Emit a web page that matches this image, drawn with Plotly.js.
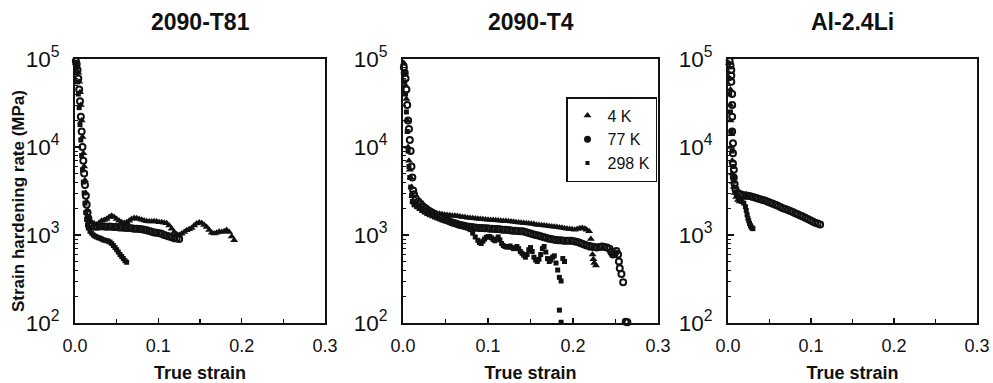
<!DOCTYPE html>
<html>
<head>
<meta charset="utf-8">
<script src="https://cdn.plot.ly/plotly-3.0.1.min.js"></script>
<style>html,body{margin:0;padding:0;background:#fff;}#chart{width:993px;height:383px;}</style>
</head>
<body>
<div id="chart"></div>
<script>
// ---------- data ----------
const panelTitles = ["2090-T81", "2090-T4", "Al-2.4Li"];
const seriesNames = ["4 K", "77 K", "298 K"];
const xTickVals = [0, 0.1, 0.2, 0.3];
const yAxisTitle = "Strain hardening rate (MPa)";
const xAxisTitle = "True strain";

// 2090-T81
const t81_4K_x = [0.001,0.002,0.003,0.004,0.005,0.006,0.007,0.008,0.009,0.010,0.011,0.012,0.013,0.014,0.015,0.016,0.018,
  0.020,0.023,0.026,0.029,0.032,0.035,0.038,0.041,0.044,0.047,0.050,0.053,0.056,0.059,0.062,0.065,0.068,0.071,0.074,0.077,
  0.080,0.083,0.086,0.089,0.092,0.095,0.098,0.101,0.104,0.107,0.110,0.113,0.116,0.119,0.122,0.125,0.128,0.131,0.134,0.137,
  0.140,0.143,0.146,0.149,0.152,0.155,0.158,0.161,0.164,0.167,0.170,0.173,0.176,0.179,0.182,0.185,0.188,0.191];
const t81_4K_y = [90000,85000,80000,70000,55000,42000,30000,20000,13000,8500,6000,4200,3000,2400,1900,1600,1450,
  1400,1350,1320,1380,1450,1480,1520,1600,1650,1600,1520,1450,1400,1370,1400,1450,1520,1560,1550,1520,
  1490,1460,1430,1420,1420,1430,1420,1400,1400,1380,1360,1280,1180,1080,1020,1000,1030,1080,1130,1160,
  1200,1280,1350,1390,1370,1300,1230,1140,1060,1040,1060,1090,1080,1100,1140,1080,960,870];
const t81_77K_x = [0.001,0.002,0.003,0.004,0.005,0.006,0.007,0.008,0.009,0.010,0.011,0.012,0.013,0.014,0.015,0.016,0.018,
  0.020,0.023,0.026,0.029,0.032,0.035,0.038,0.041,0.044,0.047,0.050,0.053,0.056,0.059,0.062,0.065,0.068,0.071,0.074,0.077,
  0.080,0.083,0.086,0.089,0.092,0.095,0.098,0.101,0.104,0.107,0.110,0.113,0.116,0.119,0.122,0.125];
const t81_77K_y = [95000,88000,75000,60000,45000,33000,22000,15000,10000,7000,5000,3700,2800,2200,1800,1550,1350,
  1280,1250,1240,1250,1260,1250,1240,1250,1240,1230,1230,1220,1220,1210,1200,1200,1190,1180,1180,1170,
  1160,1150,1130,1110,1090,1070,1060,1050,1030,1000,980,960,940,920,910,900];
const t81_298K_x = [0.001,0.002,0.003,0.004,0.005,0.006,0.007,0.008,0.009,0.010,0.011,0.012,0.013,0.014,0.015,0.016,0.018,
  0.020,0.022,0.024,0.026,0.028,0.030,0.032,0.034,0.036,0.038,0.040,0.042,0.044,0.046,0.048,0.050,0.052,0.054,0.056,0.058,0.060,0.062];
const t81_298K_y = [80000,70000,55000,40000,28000,18000,12000,8000,5500,4000,3000,2300,1800,1500,1300,1200,1100,
  1050,1000,970,950,930,920,900,880,870,860,850,830,800,760,720,680,640,600,570,540,510,490];

// 2090-T4
const t4_4K_x = [0.001,0.002,0.003,0.004,0.005,0.006,0.007,0.008,0.009,0.010,0.011,0.012,0.014,
  0.016,0.019,0.022,0.025,0.028,0.031,0.034,0.037,0.040,0.043,0.046,0.049,0.052,0.055,0.058,0.061,0.064,0.067,0.070,
  0.073,0.076,0.079,0.082,0.085,0.088,0.091,0.094,0.097,0.100,0.103,0.106,0.109,0.112,0.115,0.118,0.121,0.124,0.127,
  0.130,0.133,0.136,0.139,0.142,0.145,0.148,0.151,0.154,0.157,0.160,0.163,0.166,0.169,0.172,0.175,0.178,0.181,0.184,
  0.187,0.190,0.193,0.196,0.199,0.202,0.205,0.208,0.211,0.214,0.216,0.219,0.221,0.222,0.223,0.224,0.225,0.227];
const t4_4K_y = [90000,70000,50000,35000,20000,10000,7000,5500,4500,3500,2800,2400,2300,
  2200,2100,2000,1950,1900,1850,1820,1790,1760,1740,1720,1700,1690,1680,1660,1650,1640,1620,1600,
  1590,1570,1560,1550,1540,1530,1520,1510,1500,1490,1480,1480,1470,1460,1450,1440,1440,1430,1420,
  1410,1400,1390,1380,1370,1360,1350,1340,1330,1310,1300,1290,1280,1270,1260,1250,1240,1230,1220,
  1210,1190,1180,1170,1160,1150,1170,1190,1200,1180,1150,1100,900,700,600,530,480,450];
const t4_77K_x = [0.001,0.002,0.003,0.004,0.005,0.006,0.007,0.008,0.009,0.010,0.011,0.012,0.013,0.015,
  0.018,0.021,0.024,0.027,0.030,0.033,0.036,0.039,0.042,0.045,0.048,0.051,0.054,0.057,0.060,0.063,0.066,0.069,0.072,
  0.075,0.078,0.081,0.084,0.087,0.090,0.093,0.096,0.099,0.102,0.105,0.108,0.111,0.114,0.117,0.120,0.123,0.126,0.129,
  0.132,0.135,0.138,0.141,0.144,0.147,0.150,0.153,0.156,0.159,0.162,0.165,0.168,0.171,0.174,0.177,0.180,0.183,0.186,
  0.189,0.192,0.195,0.198,0.201,0.204,0.207,0.210,0.213,0.216,0.219,0.222,0.225,0.228,0.231,0.234,0.237,0.240,0.243,
  0.245,0.247,0.249,0.251,0.253,0.254,0.255,0.257,0.259,0.262,0.264];
const t4_77K_y = [80000,70000,60000,45000,30000,20000,16000,12000,9000,6000,4500,3200,2900,2600,
  2400,2250,2100,2000,1900,1820,1750,1680,1620,1570,1520,1480,1440,1400,1370,1340,1310,1290,1270,
  1250,1240,1230,1220,1210,1200,1200,1190,1190,1180,1180,1170,1170,1160,1150,1150,1140,1130,1120,
  1120,1110,1100,1100,1080,1060,1040,1020,1000,990,970,950,930,910,900,890,880,870,870,
  860,860,860,860,850,840,820,800,780,760,750,740,730,720,730,740,730,720,700,
  640,600,620,660,600,500,420,360,290,103,102];
const t4_298K_x = [0.001,0.002,0.003,0.004,0.005,0.006,0.007,0.008,0.009,0.010,0.011,0.013,
  0.016,0.019,0.022,0.025,0.028,0.031,0.034,0.037,0.040,0.043,0.046,0.049,0.052,0.055,0.058,0.061,0.064,0.067,0.070,
  0.073,0.076,0.079,0.082,0.085,0.088,0.090,0.092,0.094,0.096,0.098,0.100,0.102,0.104,0.106,0.108,0.110,0.112,0.114,
  0.116,0.118,0.120,0.122,0.124,0.126,0.128,0.130,0.132,0.134,0.136,0.138,0.140,0.142,0.144,0.146,0.148,0.150,0.152,
  0.154,0.156,0.158,0.160,0.162,0.164,0.166,0.168,0.170,0.172,0.174,0.176,0.178,0.180,0.182,0.184,0.186,0.188,0.190,
  0.184,0.186];
const t4_298K_y = [70000,55000,40000,25000,15000,9000,6000,4500,3500,2800,2400,2200,
  2100,2000,1900,1820,1750,1700,1650,1600,1560,1520,1480,1450,1420,1390,1360,1340,1310,1280,1250,
  1220,1200,1150,1050,950,870,820,800,850,900,940,960,960,930,890,860,900,950,880,
  800,760,740,730,730,750,720,700,710,740,700,650,620,590,560,600,680,720,650,
  560,520,500,530,600,700,740,640,540,500,520,560,580,480,400,330,300,540,500,
  140,102];

// Al-2.4Li
const al_4K_x = [0.001,0.002,0.002,0.003,0.003,0.003,0.004,0.004,0.005,0.005,0.006,0.007,0.008,0.010,0.012,0.014,0.016,0.018,0.020,0.022];
const al_4K_y = [90000,80000,60000,45000,30000,20000,14000,10000,7000,5000,4000,3500,3000,2700,2500,2400,2500,2650,2800,2900];
const al_77K_x = [0.002,0.003,0.004,0.004,0.004,0.005,0.005,0.005,0.005,0.006,0.006,0.006,0.007,0.007,0.008,0.009,
  0.012,0.015,0.018,0.021,0.024,0.027,0.030,0.033,0.036,0.039,0.042,0.045,0.048,0.051,0.054,0.057,0.060,0.063,
  0.066,0.069,0.072,0.075,0.078,0.081,0.084,0.087,0.090,0.093,0.096,0.099,0.102,0.105,0.108,0.111];
const al_77K_y = [95000,85000,75000,65000,55000,40000,30000,22000,15000,11000,8500,6500,5500,4500,3800,3300,
  3000,2900,2850,2800,2800,2750,2700,2650,2600,2550,2500,2450,2380,2320,2260,2200,2150,2080,
  2020,1970,1920,1870,1820,1770,1720,1670,1620,1570,1520,1470,1420,1380,1350,1320];
const al_298K_x = [0.001,0.002,0.003,0.004,0.005,0.006,0.007,0.008,0.010,0.013,0.016,0.019,0.021,0.022,0.023,0.024,0.025,0.026,0.027,0.028,0.029,0.030];
const al_298K_y = [60000,40000,25000,15000,9000,6000,4500,3500,2900,2600,2400,2300,2100,1900,1700,1550,1450,1350,1280,1230,1200,1180];

// ---------- styling ----------
const INK = "#111111";
const FONT = "Liberation Sans, Arial, Helvetica, sans-serif";
const markerStyles = [
  {symbol: "triangle-up", size: 7, color: INK},
  {symbol: "circle-open", size: 6, color: INK, line: {width: 2, color: INK}},
  {symbol: "square", size: 5, color: INK}
];
const legendMarkers = [
  {symbol: "triangle-up", size: 7, color: INK},
  {symbol: "circle", size: 7, color: INK},
  {symbol: "square", size: 4, color: INK}
];

const panels = [
  {xs: [t81_4K_x, t81_77K_x, t81_298K_x], ys: [t81_4K_y, t81_77K_y, t81_298K_y]},
  {xs: [t4_4K_x, t4_77K_x, t4_298K_x], ys: [t4_4K_y, t4_77K_y, t4_298K_y]},
  {xs: [al_4K_x, al_77K_x, al_298K_x], ys: [al_4K_y, al_77K_y, al_298K_y]}
];

const traces = [];
panels.forEach((p, i) => {
  const ax = i === 0 ? "" : String(i + 1);
  for (let s = 0; s < 3; s++) {
    traces.push({
      type: "scatter", mode: "markers",
      x: p.xs[s], y: p.ys[s],
      xaxis: "x" + ax, yaxis: "y" + ax,
      marker: markerStyles[s],
      cliponaxis: false,
      showlegend: false, hoverinfo: "x+y"
    });
  }
});
// legend entries (shown in the middle panel)
for (let s = 0; s < 3; s++) {
  traces.push({
    type: "scatter", mode: "markers", x: [null], y: [null],
    xaxis: "x2", yaxis: "y2", name: seriesNames[s],
    marker: legendMarkers[s], showlegend: true
  });
}

const W = 993, H = 383;
const plotX = [[75, 325], [403, 658], [728, 977]];
const plotTop = 59, plotBottom = 323;
const yDom = [(H - plotBottom) / H, (H - plotTop) / H];

function xAxis(i) {
  return {
    domain: [plotX[i][0] / W, plotX[i][1] / W],
    range: [0, 0.3], tickvals: xTickVals, tickformat: ".1f",
    ticks: "inside", ticklen: 5, tickwidth: 1.3, tickcolor: INK,
    minor: {ticks: "inside", dtick: 0.05, ticklen: 4, tickwidth: 1.3, tickcolor: INK},
    showline: true, linecolor: INK, linewidth: 1.8, mirror: true,
    showgrid: false, zeroline: false, automargin: false,
    tickfont: {family: FONT, size: 18, color: INK},
    ticklabelstandoff: 6,
    title: {text: "<b>" + xAxisTitle + "</b>", font: {family: FONT, size: 18, color: INK}, standoff: 12},
    anchor: i === 0 ? "y" : "y" + (i + 1)
  };
}
function yAxis(i) {
  return {
    domain: yDom, type: "log", range: [2, 5],
    dtick: 1, exponentformat: "power", showexponent: "all",
    ticks: "inside", ticklen: 6, tickwidth: 1.3, tickcolor: INK,
    minor: {ticks: "inside", dtick: "D1", ticklen: 3, tickwidth: 1, tickcolor: INK},
    showline: true, linecolor: INK, linewidth: 1.8, mirror: true,
    showgrid: false, zeroline: false, automargin: false,
    tickfont: {family: FONT, size: 18, color: INK},
    ticklabelstandoff: 10,
    anchor: i === 0 ? "x" : "x" + (i + 1)
  };
}

const annotations = panelTitles.map((t, i) => ({
  text: "<b>" + t + "</b>", showarrow: false,
  xref: "paper", yref: "paper",
  x: (plotX[i][0] + plotX[i][1]) / 2 / W, y: (H - 22) / H,
  xanchor: "center", yanchor: "middle",
  font: {family: FONT, size: 23, color: INK}
}));
annotations.push({
  text: "<b>" + yAxisTitle + "</b>", showarrow: false, textangle: -90,
  xref: "paper", yref: "paper", x: 18 / W, y: (H - 201) / H,
  xanchor: "center", yanchor: "middle",
  font: {family: FONT, size: 17, color: INK}
});

const layout = {
  width: W, height: H,
  margin: {l: 0, r: 0, t: 0, b: 0},
  paper_bgcolor: "#ffffff", plot_bgcolor: "#ffffff",
  font: {family: FONT, color: INK},
  showlegend: true,
  legend: {
    x: 566 / W, y: (H - 97) / H, xanchor: "left", yanchor: "top",
    bgcolor: "#ffffff", bordercolor: INK, borderwidth: 1.5,
    font: {family: FONT, size: 16, color: INK},
    itemwidth: 30, tracegroupgap: 0
  },
  xaxis: xAxis(0), yaxis: yAxis(0),
  xaxis2: xAxis(1), yaxis2: yAxis(1),
  xaxis3: xAxis(2), yaxis3: yAxis(2),
  annotations: annotations
};

Plotly.newPlot("chart", traces, layout, {displayModeBar: false, staticPlot: true});
</script>
</body>
</html>
